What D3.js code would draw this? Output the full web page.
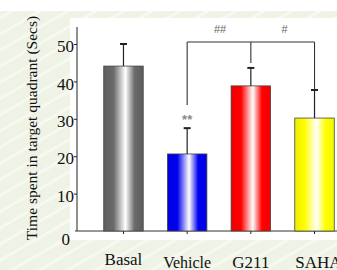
<!DOCTYPE html>
<html>
<head>
<meta charset="utf-8">
<script src="https://cdn.jsdelivr.net/npm/d3@7"></script>
<style>
  body { margin: 0; background: #fff; }
  svg { display: block; }
</style>
</head>
<body>
<div id="chart"></div>
<script>
var groups = ["Basal", "Vehicle", "G211", "SAHA"];
var means = [44.1, 20.6, 38.8, 30.2];
var errors = [5.9, 6.9, 4.8, 7.5];
var yTicks = [0, 10, 20, 30, 40, 50];
var barColors = ["#6a6a6a", "#0000ee", "#ff0000", "#ffff00"];

var svgWidth = 337;
var svgHeight = 270;

var svg = d3.select("#chart")
  .append("svg")
  .attr("width", svgWidth)
  .attr("height", svgHeight);

var defs = svg.append("defs");

// diagonal striped backdrop
var pat = defs.append("pattern")
  .attr("id", "stripes")
  .attr("patternUnits", "userSpaceOnUse")
  .attr("width", 14)
  .attr("height", 14)
  .attr("patternTransform", "rotate(-30)");
pat.append("rect").attr("width", 14).attr("height", 14).attr("fill", "#eef3e6");
pat.append("rect").attr("width", 14).attr("height", 3).attr("fill", "#f6f9f2");

svg.append("rect").attr("width", svgWidth).attr("height", svgHeight).attr("fill", "#fff");
svg.append("rect")
  .attr("y", 11)
  .attr("width", svgWidth)
  .attr("height", svgHeight - 11)
  .attr("fill", "url(#stripes)");

// white plot panel
svg.append("rect")
  .attr("x", 70)
  .attr("y", 18)
  .attr("width", svgWidth - 70)
  .attr("height", 222)
  .attr("fill", "#fff");

// bar gradients
barColors.forEach(function (c, i) {
  var g = defs.append("linearGradient")
    .attr("id", "grad" + i)
    .attr("x1", "0%").attr("x2", "100%")
    .attr("y1", "0%").attr("y2", "0%");
  g.append("stop").attr("offset", "0%").attr("stop-color", d3.color(c).darker(i == 0 ? 0.3 : 0.2));
  g.append("stop").attr("offset", "25%").attr("stop-color", c);
  g.append("stop").attr("offset", "55%").attr("stop-color", "#ffffff");
  g.append("stop").attr("offset", "78%").attr("stop-color", c);
  g.append("stop").attr("offset", "100%").attr("stop-color", d3.color(c).darker(i == 0 ? 0.4 : 0.1));
});

var yScale = d3.scaleLinear()
  .domain([0, 50])
  .range([231, 44]);

var xScale = d3.scaleBand()
  .domain(groups)
  .range([91, 347])
  .paddingInner(0.38)
  .paddingOuter(0.2);

var chartGroup = svg.append("g");

// axes
var leftAxis = d3.axisLeft(yScale).tickValues(yTicks).tickSize(3).tickFormat(d3.format("d"));
var yAxisG = chartGroup.append("g")
  .attr("transform", "translate(77, 0)")
  .call(leftAxis);
yAxisG.select(".domain").attr("d", "M0,27V231").attr("stroke", "#222");
yAxisG.selectAll(".tick line").attr("stroke", "#222");
yAxisG.selectAll(".tick text")
  .attr("font-family", "Liberation Serif, serif")
  .attr("font-size", "17px")
  .attr("fill", "#111")
  .attr("x", -3)
  .attr("dy", "0.45em");
yAxisG.selectAll(".tick").filter(function (d) { return d === 0; }).select("text")
  .attr("x", -7).attr("dy", "0.8em");
yAxisG.selectAll(".tick").filter(function (d) { return d === 0; }).select("line").remove();

var bottomAxis = d3.axisBottom(xScale).tickSize(3).tickFormat("");
var xAxisG = chartGroup.append("g")
  .attr("transform", "translate(0, 231)")
  .call(bottomAxis);
xAxisG.select(".domain").attr("d", "M75,0H337").attr("stroke", "#333");
xAxisG.selectAll(".tick line").attr("stroke", "#222");

// bars
chartGroup.selectAll(".bar")
  .data(groups)
  .enter()
  .append("rect")
  .attr("x", d => xScale(d))
  .attr("y", (d, i) => yScale(means[i]))
  .attr("width", xScale.bandwidth())
  .attr("height", (d, i) => yScale(0) - yScale(means[i]))
  .attr("fill", (d, i) => "url(#grad" + i + ")")
  .attr("stroke", "#444")
  .attr("stroke-width", 0.8);

// error bars
var cx = d => xScale(d) + xScale.bandwidth() / 2;
chartGroup.selectAll(".err")
  .data(groups)
  .enter()
  .append("line")
  .attr("x1", cx).attr("x2", cx)
  .attr("y1", (d, i) => yScale(means[i]))
  .attr("y2", (d, i) => yScale(means[i] + errors[i]))
  .attr("stroke", "#222")
  .attr("stroke-width", 1.2);
chartGroup.selectAll(".cap")
  .data(groups)
  .enter()
  .append("line")
  .attr("x1", d => cx(d) - 3.5).attr("x2", d => cx(d) + 3.5)
  .attr("y1", (d, i) => yScale(means[i] + errors[i]))
  .attr("y2", (d, i) => yScale(means[i] + errors[i]))
  .attr("stroke", "#222")
  .attr("stroke-width", 2);

// significance bracket
var bracketY = 42;
var bracket = chartGroup.append("g").attr("stroke", "#333").attr("stroke-width", 1.1).attr("fill", "none");
bracket.append("line").attr("x1", cx("Vehicle")).attr("x2", cx("SAHA")).attr("y1", bracketY).attr("y2", bracketY);
bracket.append("line").attr("x1", cx("Vehicle")).attr("x2", cx("Vehicle")).attr("y1", bracketY).attr("y2", 105);
bracket.append("line").attr("x1", cx("G211")).attr("x2", cx("G211")).attr("y1", bracketY).attr("y2", 63);
bracket.append("line").attr("x1", cx("SAHA")).attr("x2", cx("SAHA")).attr("y1", bracketY).attr("y2", yScale(means[3] + errors[3]));

var markFont = "Liberation Sans, sans-serif";
chartGroup.append("text")
  .attr("x", (cx("Vehicle") + cx("G211")) / 2 + 1)
  .attr("y", 33)
  .attr("text-anchor", "middle")
  .attr("font-family", markFont)
  .attr("font-size", "11px")
  .attr("fill", "#666")
  .text("##");
chartGroup.append("text")
  .attr("x", (cx("G211") + cx("SAHA")) / 2 + 2)
  .attr("y", 33)
  .attr("text-anchor", "middle")
  .attr("font-family", markFont)
  .attr("font-size", "11px")
  .attr("fill", "#666")
  .text("#");
chartGroup.append("text")
  .attr("x", cx("Vehicle"))
  .attr("y", 124)
  .attr("text-anchor", "middle")
  .attr("font-family", markFont)
  .attr("font-size", "13px")
  .attr("font-weight", "bold")
  .attr("fill", "#888")
  .text("**");

// category labels
chartGroup.selectAll(".lbl")
  .data(groups)
  .enter()
  .append("text")
  .attr("x", (d, i) => cx(d) + (i == 3 ? 4 : 0))
  .attr("y", (d, i) => i == 0 ? 265 : 268)
  .attr("text-anchor", "middle")
  .attr("font-family", "Liberation Serif, serif")
  .attr("font-size", (d, i) => i == 1 ? "16px" : "17px")
  .attr("fill", "#111")
  .text(d => d);

// y axis title
chartGroup.append("text")
  .attr("transform", "translate(37, 128) rotate(-90)")
  .attr("text-anchor", "middle")
  .attr("font-family", "Liberation Serif, serif")
  .attr("font-size", "15.5px")
  .attr("fill", "#111")
  .text("Time spent in target quadrant (Secs)");
</script>
</body>
</html>
